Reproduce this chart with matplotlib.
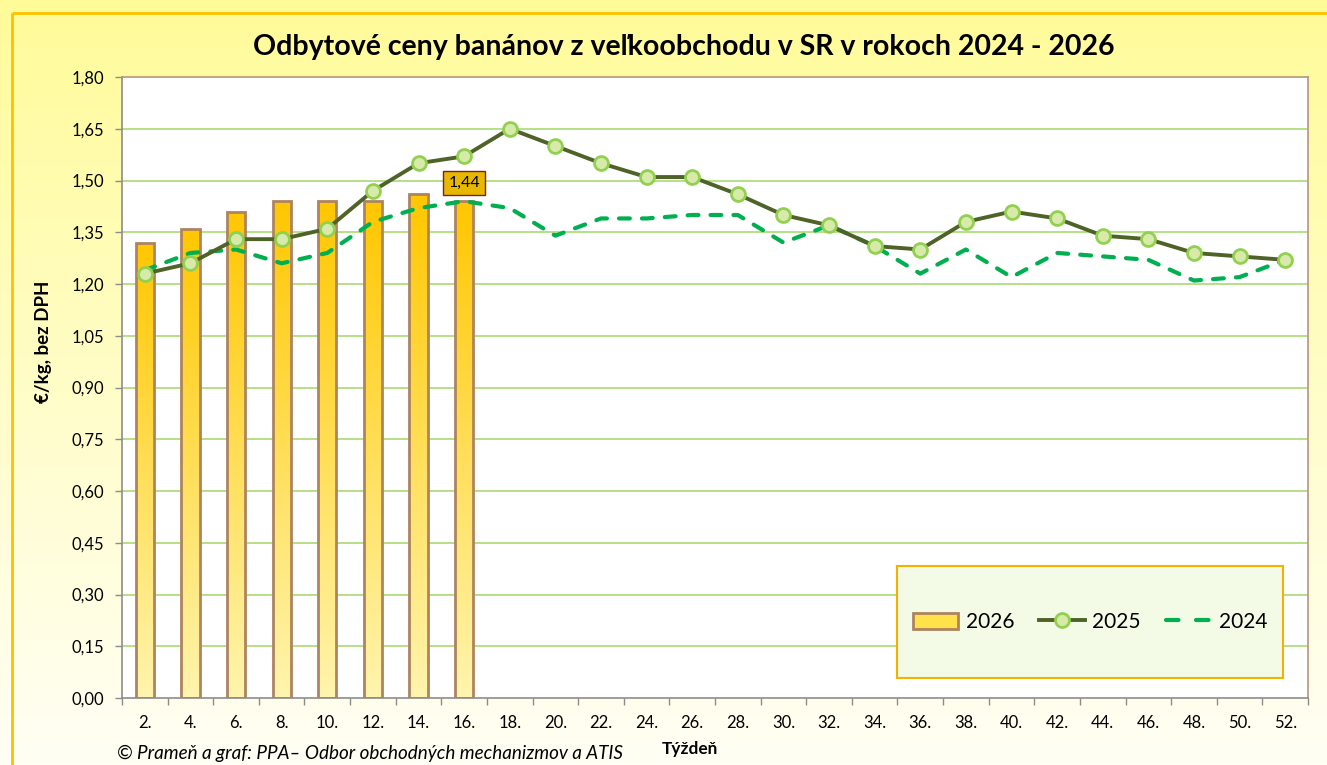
import numpy as np
import matplotlib
matplotlib.use("Agg")
import matplotlib.pyplot as plt
from matplotlib.patches import Rectangle
from matplotlib.lines import Line2D

weeks = ["2.", "4.", "6.", "8.", "10.", "12.", "14.", "16.", "18.", "20.", "22.", "24.", "26.",
         "28.", "30.", "32.", "34.", "36.", "38.", "40.", "42.", "44.", "46.", "48.", "50.", "52."]
v2026 = [1.32, 1.36, 1.41, 1.44, 1.44, 1.44, 1.46, 1.44]
v2025 = [1.23, 1.26, 1.33, 1.33, 1.36, 1.47, 1.55, 1.57, 1.65, 1.60, 1.55, 1.51, 1.51,
         1.46, 1.40, 1.37, 1.31, 1.30, 1.38, 1.41, 1.39, 1.34, 1.33, 1.29, 1.28, 1.27]
v2024 = [1.24, 1.29, 1.30, 1.26, 1.29, 1.38, 1.42, 1.44, 1.42, 1.34, 1.39, 1.39, 1.40,
         1.40, 1.32, 1.37, 1.31, 1.23, 1.30, 1.22, 1.29, 1.28, 1.27, 1.21, 1.22, 1.27]
yticks = [0.0, 0.15, 0.30, 0.45, 0.60, 0.75, 0.90, 1.05, 1.20, 1.35, 1.50, 1.65, 1.80]

FONT = ["Lato", "Noto Sans", "DejaVu Sans"]
W, H = 1327, 765
fig = plt.figure(figsize=(W / 100, H / 100), dpi=100)

# background gradient
bg = fig.add_axes([0, 0, 1, 1], zorder=-10)
top = np.array([1.0, 0.985, 0.60])
bot = np.array([1.0, 1.0, 0.96])
t = np.linspace(0, 1, 256)[:, None]
grad = top[None, :] * (1 - t) + bot[None, :] * t
bg.imshow(grad[:, None, :].repeat(2, axis=1), aspect="auto", extent=[0, 1, 0, 1],
          origin="upper")
bg.set_xlim(0, 1); bg.set_ylim(0, 1)
bg.axis("off")
# gold border (left and top)
bx, by = 11.5 / W, 1 - 12.5 / H
bg.plot([bx, bx], [0, by], color="#FFC000", lw=2, solid_capstyle="butt")
bg.plot([bx, 1], [by, by], color="#FFC000", lw=2, solid_capstyle="butt")

L, R, B, T = 122 / W, 1308 / W, 1 - 698 / H, 1 - 77 / H
ax = fig.add_axes([L, B, R - L, T - B])
ax.set_facecolor("white")

x = np.arange(len(weeks))

# grid
for yv in yticks[1:-1]:
    ax.axhline(yv, color="#A9DC72", lw=1.2, zorder=1)

# bars with gradient
bars = ax.bar(x[:len(v2026)], v2026, width=0.4, facecolor="none",
              edgecolor="#AE8460", linewidth=2, zorder=3)
gimg = np.linspace(0, 1, 256)[:, None]
c_top = np.array([1.0, 0.78, 0.0])
c_bot = np.array([1.0, 0.96, 0.68])
gcol = c_top[None, :] * (1 - gimg) + c_bot[None, :] * gimg
for b in bars:
    bx0, bw, bh = b.get_x(), b.get_width(), b.get_height()
    im = ax.imshow(gcol[:, None, :].repeat(2, axis=1), aspect="auto",
                   extent=[bx0, bx0 + bw, 0, bh], origin="upper", zorder=2)
    im.set_clip_path(b)
ax.set_xlim(-0.5, len(weeks) - 0.5)
ax.set_ylim(0, 1.80)

# 2024 dashed
ax.plot(x, v2024, color="#00B050", lw=3, dashes=(2.6, 2.9), dash_capstyle="round",
        zorder=4)
# 2025 line with markers
ax.plot(x, v2025, color="#4F6228", lw=2.8, marker="o", markersize=10,
        markerfacecolor="#D7EAAA", markeredgecolor="#92D050", markeredgewidth=2,
        zorder=5)

# data label
ax.annotate("1,44", xy=(x[len(v2026) - 1], v2026[-1]), xytext=(0, 13),
            textcoords="offset points", ha="center", va="center", fontsize=11.5,
            family=FONT, zorder=6,
            bbox=dict(boxstyle="square,pad=0.3", facecolor="#E8B800",
                      edgecolor="#7B1E2E", linewidth=1))

# axes styling
ax.set_yticks(yticks)
ax.set_yticklabels([f"{v:.2f}".replace(".", ",") for v in yticks],
                   fontsize=12, family=FONT)
ax.set_xticks(x)
ax.set_xticklabels(weeks, fontsize=12, family=FONT)
ax.set_xticks(np.arange(-0.5, len(weeks)), minor=True)
ax.tick_params(axis="x", which="major", length=0, pad=12)
ax.tick_params(axis="x", which="minor", length=5, color="#8C8C8C", width=1)
ax.tick_params(axis="y", length=5, color="#8C8C8C", width=1, pad=8)
for s in ["left", "bottom"]:
    ax.spines[s].set_color("#8C8C8C")
    ax.spines[s].set_linewidth(1.2)
for s in ["right", "top"]:
    ax.spines[s].set_color("#B8957A")
    ax.spines[s].set_linewidth(1.2)

# legend box
lx0, ly0 = (897 - 122) / 1186, (698 - 678) / 621
lw_, lh_ = (1283 - 897) / 1186, (678 - 566) / 621
ax.add_patch(Rectangle((lx0, ly0), lw_, lh_, transform=ax.transAxes,
                       facecolor="#F3FBE6", edgecolor="#F2B200", lw=1.5, zorder=7))
handles = [
    Rectangle((0, 0), 1, 1, facecolor="#FFE24A", edgecolor="#AE8460", lw=2),
    Line2D([], [], color="#4F6228", lw=2.8, marker="o", markersize=10,
           markerfacecolor="#D7EAAA", markeredgecolor="#92D050", markeredgewidth=2),
    Line2D([], [], color="#00B050", lw=3, dashes=(3.0, 4.2), dash_capstyle="round"),
]
leg = ax.legend(handles, ["2026", "2025", "2024"], ncol=3, frameon=False,
                loc="center", bbox_to_anchor=(lx0 + lw_ / 2, ly0 + lh_ / 2),
                prop={"family": FONT, "size": 15}, handlelength=2.2,
                handletextpad=0.35, columnspacing=1.2, handleheight=0.8)
leg.set_zorder(8)

# texts
fig.text(684 / W, 1 - 47 / H, "Odbytové ceny banánov z veľkoobchodu v SR v rokoch 2024 - 2026",
         ha="center", va="center", fontsize=20.5, fontweight="bold", family=FONT)
fig.text(43 / W, 1 - 342 / H, "€/kg, bez DPH", rotation=90, ha="center", va="center",
         fontsize=13.5, fontweight="bold", family=FONT)
fig.text(690 / W, 1 - 749 / H, "Týždeň", ha="center", va="center",
         fontsize=12.4, fontweight="bold", family=FONT)
fig.text(117 / W, 1 - 753 / H, "© Prameň a graf: PPA– Odbor obchodných mechanizmov a ATIS",
         ha="left", va="center", fontsize=13.6, style="italic", family=FONT)

fig.savefig("out.png", dpi=100)
